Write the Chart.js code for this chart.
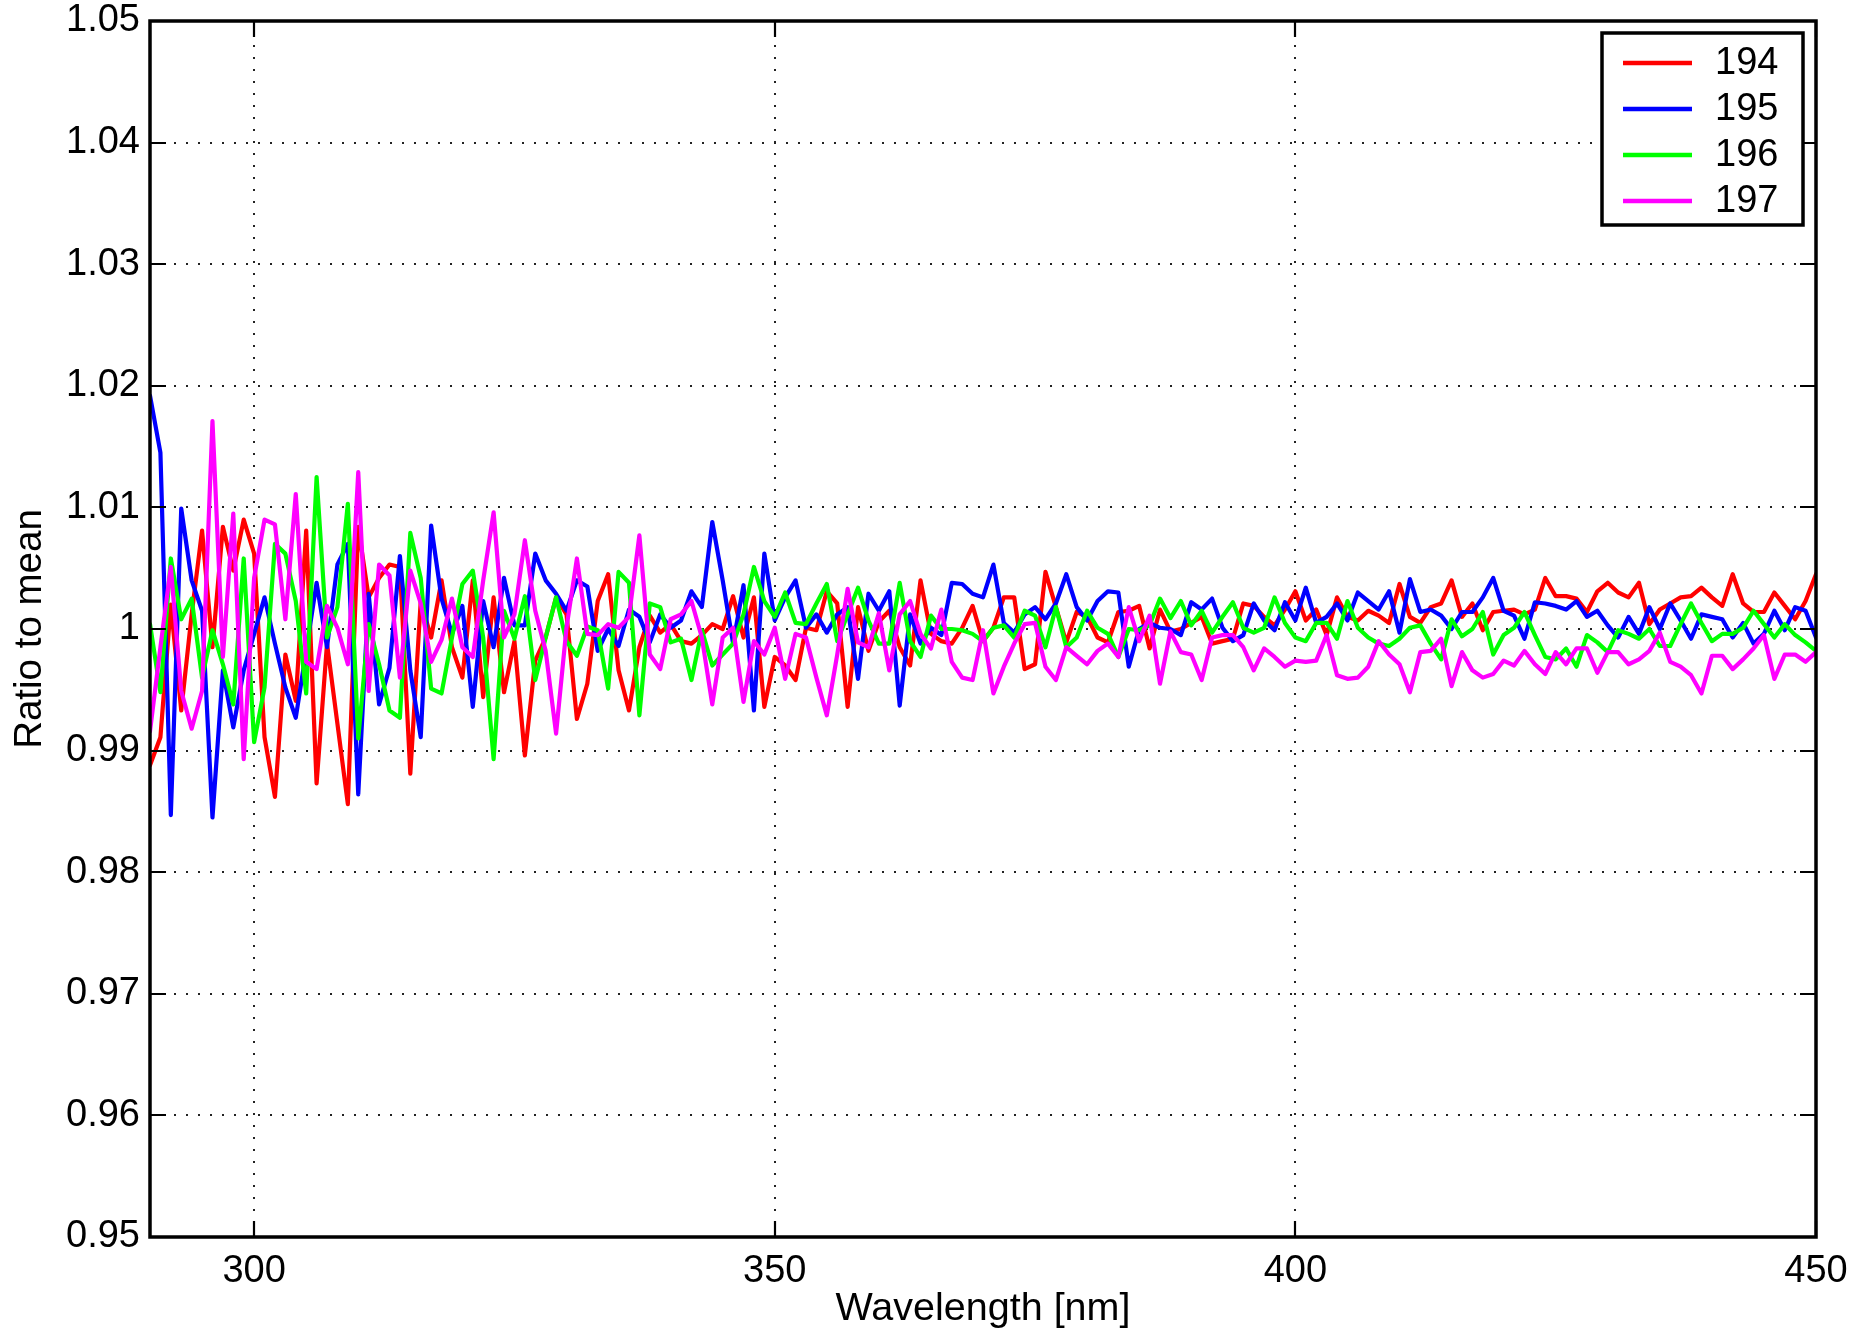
<!DOCTYPE html>
<html><head><meta charset="utf-8">
<script src="https://cdn.jsdelivr.net/npm/chart.js@4.4.0/dist/chart.umd.min.js"></script>
<style>html,body{margin:0;padding:0;background:#fff;overflow:hidden}</style>
</head><body>
<canvas id="c" width="1855" height="1333"></canvas>
<script>
const wavelengths = [
290,291,292,293,294,295,296,297,298,299,
300,301,302,303,304,305,306,307,308,309,
310,311,312,313,314,315,316,317,318,319,
320,321,322,323,324,325,326,327,328,329,
330,331,332,333,334,335,336,337,338,339,
340,341,342,343,344,345,346,347,348,349,
350,351,352,353,354,355,356,357,358,359,
360,361,362,363,364,365,366,367,368,369,
370,371,372,373,374,375,376,377,378,379,
380,381,382,383,384,385,386,387,388,389,
390,391,392,393,394,395,396,397,398,399,
400,401,402,403,404,405,406,407,408,409,
410,411,412,413,414,415,416,417,418,419,
420,421,422,423,424,425,426,427,428,429,
430,431,432,433,434,435,436,437,438,439,
440,441,442,443,444,445,446,447,448,449,
450];

const series194 = [
0.9888,0.9911,1.0020,0.9933,1.0012,1.0081,0.9985,1.0084,1.0048,1.0090,
1.0062,0.9911,0.9862,0.9979,0.9941,1.0081,0.9873,0.9988,0.9922,0.9856,
1.0084,1.0026,1.0042,1.0053,1.0051,0.9881,1.0023,0.9993,1.0040,0.9985,
0.9960,1.0040,0.9944,1.0026,0.9948,0.9990,0.9896,0.9974,0.9993,1.0026,
1.0012,0.9926,0.9955,1.0023,1.0045,0.9966,0.9933,0.9985,1.0011,0.9997,
1.0004,0.9990,0.9988,0.9995,1.0004,1.0000,1.0027,0.9993,1.0026,0.9936,
0.9977,0.9970,0.9958,1.0001,0.9999,1.0031,1.0021,0.9936,1.0018,0.9982,
1.0006,1.0015,0.9985,0.9970,1.0040,0.9996,0.9990,0.9988,1.0001,1.0019,
0.9990,1.0001,1.0026,1.0026,0.9967,0.9971,1.0047,1.0018,0.9989,1.0014,
1.0010,0.9993,0.9989,1.0014,1.0015,1.0019,0.9984,1.0016,0.9998,1.0000,
1.0005,1.0010,0.9988,0.9990,0.9992,1.0021,1.0019,1.0010,1.0003,1.0016,
1.0031,1.0007,1.0016,0.9995,1.0026,1.0010,1.0007,1.0015,1.0011,1.0005,
1.0037,1.0010,1.0005,1.0018,1.0021,1.0040,1.0010,1.0021,0.9999,1.0014,
1.0015,1.0016,1.0012,1.0016,1.0042,1.0027,1.0027,1.0025,1.0014,1.0031,
1.0038,1.0030,1.0026,1.0038,1.0004,1.0016,1.0021,1.0026,1.0027,1.0034,
1.0026,1.0019,1.0045,1.0021,1.0014,1.0014,1.0030,1.0019,1.0008,1.0023,
1.0045];

const series195 = [
1.0192,1.0145,0.9847,1.0099,1.0040,1.0015,0.9845,0.9966,0.9919,0.9966,
0.9996,1.0026,0.9988,0.9952,0.9927,0.9982,1.0038,0.9985,1.0053,1.0070,
0.9864,1.0029,0.9938,0.9968,1.0060,0.9966,0.9911,1.0085,1.0025,0.9996,
1.0019,0.9936,1.0023,0.9985,1.0042,1.0003,1.0003,1.0062,1.0040,1.0029,
1.0015,1.0040,1.0035,0.9982,1.0000,0.9986,1.0016,1.0010,0.9989,1.0012,
1.0001,1.0007,1.0031,1.0018,1.0088,1.0040,0.9988,1.0036,0.9933,1.0062,
1.0007,1.0026,1.0040,1.0001,1.0012,0.9997,1.0012,1.0018,0.9959,1.0029,
1.0015,1.0031,0.9937,1.0012,0.9988,1.0001,0.9995,1.0038,1.0037,1.0029,
1.0026,1.0053,1.0005,0.9997,1.0012,1.0018,1.0008,1.0021,1.0045,1.0018,
1.0007,1.0023,1.0031,1.0030,0.9969,1.0000,1.0005,1.0001,1.0000,0.9995,
1.0022,1.0016,1.0025,1.0001,0.9990,0.9995,1.0021,1.0007,0.9999,1.0022,
1.0007,1.0034,1.0005,1.0010,1.0021,1.0007,1.0030,1.0023,1.0016,1.0031,
0.9997,1.0041,1.0014,1.0016,1.0011,1.0000,1.0014,1.0014,1.0026,1.0042,
1.0015,1.0011,0.9992,1.0022,1.0021,1.0019,1.0016,1.0023,1.0010,1.0015,
1.0003,0.9993,1.0010,0.9996,1.0018,1.0000,1.0021,1.0007,0.9992,1.0012,
1.0010,1.0008,0.9993,1.0005,0.9988,0.9996,1.0015,0.9999,1.0018,1.0015,
0.9993];

const series196 = [
1.0004,0.9948,1.0058,1.0008,1.0025,0.9960,0.9999,0.9971,0.9938,1.0058,
0.9907,0.9952,1.0070,1.0062,1.0023,0.9947,1.0125,0.9993,1.0018,1.0103,
0.9910,1.0004,0.9971,0.9933,0.9927,1.0079,1.0042,0.9951,0.9947,0.9993,
1.0037,1.0048,0.9993,0.9893,1.0015,0.9992,1.0027,0.9958,0.9993,1.0026,
0.9990,0.9978,1.0002,0.9999,0.9951,1.0047,1.0038,0.9929,1.0021,1.0018,
0.9989,0.9992,0.9958,0.9999,0.9970,0.9979,0.9988,1.0012,1.0051,1.0023,
1.0010,1.0030,1.0005,1.0004,1.0021,1.0037,0.9990,1.0012,1.0034,1.0007,
0.9988,0.9988,1.0038,0.9990,0.9977,1.0011,1.0000,1.0000,0.9999,0.9996,
0.9990,1.0001,1.0003,0.9993,1.0015,1.0011,0.9985,1.0018,0.9985,0.9993,
1.0015,1.0001,0.9996,0.9977,1.0000,0.9999,1.0003,1.0025,1.0009,1.0023,
1.0003,1.0015,0.9997,1.0010,1.0022,1.0001,0.9997,1.0001,1.0026,1.0005,
0.9993,0.9990,1.0005,1.0005,0.9992,1.0023,1.0001,0.9993,0.9988,0.9986,
0.9992,1.0001,1.0003,0.9988,0.9975,1.0008,0.9994,1.0000,1.0014,0.9979,
0.9995,1.0001,1.0014,0.9995,0.9977,0.9975,0.9984,0.9969,0.9995,0.9989,
0.9981,0.9999,0.9996,0.9992,1.0000,0.9986,0.9986,1.0004,1.0021,1.0005,
0.9990,0.9996,0.9996,1.0001,1.0015,1.0004,0.9993,1.0004,0.9995,0.9989,
0.9982];

const series197 = [
0.9916,0.9985,1.0051,0.9949,0.9918,0.9949,1.0171,0.9977,1.0095,0.9893,
1.0042,1.0090,1.0086,1.0008,1.0111,0.9973,0.9967,1.0019,1.0001,0.9971,
1.0129,0.9949,1.0053,1.0044,0.9960,1.0048,1.0021,0.9973,0.9991,1.0025,
0.9985,0.9977,1.0040,1.0096,0.9993,1.0012,1.0073,1.0015,0.9982,0.9914,
1.0001,1.0058,0.9996,0.9995,1.0004,1.0001,1.0010,1.0077,0.9979,0.9967,
1.0008,1.0012,1.0023,0.9993,0.9938,0.9993,1.0001,0.9940,0.9990,0.9979,
1.0001,0.9959,0.9996,0.9993,0.9960,0.9929,0.9979,1.0033,0.9989,0.9985,
1.0013,0.9966,1.0012,1.0023,0.9996,0.9984,1.0016,0.9973,0.9960,0.9958,
0.9999,0.9947,0.9969,0.9988,1.0004,1.0005,0.9969,0.9958,0.9985,0.9978,
0.9971,0.9982,0.9988,0.9977,1.0018,0.9990,1.0011,0.9955,0.9998,0.9981,
0.9979,0.9958,0.9993,0.9995,0.9995,0.9985,0.9966,0.9984,0.9977,0.9969,
0.9974,0.9973,0.9974,0.9995,0.9962,0.9959,0.9960,0.9969,0.9990,0.9979,
0.9971,0.9948,0.9981,0.9982,0.9992,0.9953,0.9981,0.9966,0.9960,0.9963,
0.9974,0.9970,0.9982,0.9971,0.9963,0.9981,0.9971,0.9984,0.9984,0.9964,
0.9981,0.9981,0.9971,0.9975,0.9982,0.9997,0.9973,0.9969,0.9962,0.9947,
0.9978,0.9978,0.9967,0.9975,0.9984,0.9995,0.9959,0.9979,0.9979,0.9973,
0.9981];

const seriesLabels = ['194', '195', '196', '197'];
const seriesColors = ['#ff0000', '#0000ff', '#00ff00', '#ff00ff'];
const xTickValues = [300, 350, 400, 450];
const yTickValues = [0.95, 0.96, 0.97, 0.98, 0.99, 1.00, 1.01, 1.02, 1.03, 1.04, 1.05];

const FONT = "'Liberation Sans', Arial, Helvetica, sans-serif";
const allSeries = [series194, series195, series196, series197];

const datasets = allSeries.map((s, i) => ({
  label: seriesLabels[i],
  data: s.map((v, j) => ({x: wavelengths[j], y: v})),
  borderColor: seriesColors[i],
  backgroundColor: seriesColors[i],
  borderWidth: 4.2,
  borderJoinStyle: 'round',
  borderCapStyle: 'round',
  pointRadius: 0,
  tension: 0,
  fill: false,
  order: allSeries.length - i
}));

const frameTicks = {
  id: 'frameTicks',
  afterDatasetsDraw(chart) {
    const {ctx, chartArea: a, scales} = chart;
    const len = 16;
    ctx.save();
    ctx.strokeStyle = '#000';
    ctx.lineWidth = 2.2;
    ctx.beginPath();
    xTickValues.forEach(v => {
      const px = Math.round(scales.x.getPixelForValue(v));
      ctx.moveTo(px, a.bottom); ctx.lineTo(px, a.bottom - len);
      ctx.moveTo(px, a.top); ctx.lineTo(px, a.top + len);
    });
    yTickValues.forEach(v => {
      const py = Math.round(scales.y.getPixelForValue(v));
      ctx.moveTo(a.left, py); ctx.lineTo(a.left + len, py);
      ctx.moveTo(a.right, py); ctx.lineTo(a.right - len, py);
    });
    ctx.stroke();
    ctx.lineWidth = 3.5;
    ctx.strokeRect(a.left, a.top, a.right - a.left, a.bottom - a.top);
    ctx.restore();
  }
};

const boxLegend = {
  id: 'boxLegend',
  afterDraw(chart) {
    const {ctx} = chart;
    const bx = 1602, by = 33, bw = 201, bh = 192;
    const rowH = 46, firstY = 63;
    ctx.save();
    ctx.fillStyle = '#fff';
    ctx.fillRect(bx, by, bw, bh);
    ctx.strokeStyle = '#000';
    ctx.lineWidth = 3.5;
    ctx.strokeRect(bx, by, bw, bh);
    ctx.font = '38px ' + FONT;
    ctx.textBaseline = 'middle';
    ctx.textAlign = 'left';
    chart.data.datasets.forEach((ds, i) => {
      const y = firstY + i * rowH;
      ctx.strokeStyle = ds.borderColor;
      ctx.lineWidth = 4.5;
      ctx.beginPath();
      ctx.moveTo(bx + 21, y); ctx.lineTo(bx + 90, y);
      ctx.stroke();
      ctx.fillStyle = '#000';
      ctx.fillText(ds.label, bx + 113, y + 1);
    });
    ctx.restore();
  }
};

new Chart(document.getElementById('c'), {
  type: 'line',
  data: {datasets},
  options: {
    responsive: false,
    animation: false,
    devicePixelRatio: 1,
    layout: {padding: {top: 21, right: 39, left: 0, bottom: 0}},
    plugins: {legend: {display: false}, tooltip: {enabled: false}},
    scales: {
      x: {
        type: 'linear', min: 290, max: 450,
        afterFit(s) { s.height = 96; s.paddingLeft = 0; s.paddingRight = 0; },
        afterBuildTicks(s) { s.ticks = xTickValues.map(v => ({value: v})); },
        ticks: {font: {size: 38, family: FONT}, color: '#000', padding: 12, maxRotation: 0,
                callback: v => String(v)},
        grid: {color: '#222', lineWidth: 2, drawTicks: false},
        border: {display: false, dash: [2, 10]},
        title: {display: true, text: 'Wavelength [nm]', color: '#000',
                font: {size: 39.5, family: FONT}, padding: {top: 0, bottom: 0}}
      },
      y: {
        type: 'linear', min: 0.95, max: 1.05,
        afterFit(s) { s.width = 150; s.paddingTop = 0; s.paddingBottom = 0; },
        afterBuildTicks(s) { s.ticks = yTickValues.map(v => ({value: v})); },
        ticks: {font: {size: 38, family: FONT}, color: '#000', padding: 10,
                callback: v => String(Number(v.toFixed(2)))},
        grid: {color: '#222', lineWidth: 2, drawTicks: false},
        border: {display: false, dash: [2, 10]},
        title: {display: true, text: 'Ratio to mean', color: '#000',
                font: {size: 38.5, family: FONT}, padding: {top: 7, bottom: 0}}
      }
    }
  },
  plugins: [frameTicks, boxLegend]
});
</script>
</body></html>
